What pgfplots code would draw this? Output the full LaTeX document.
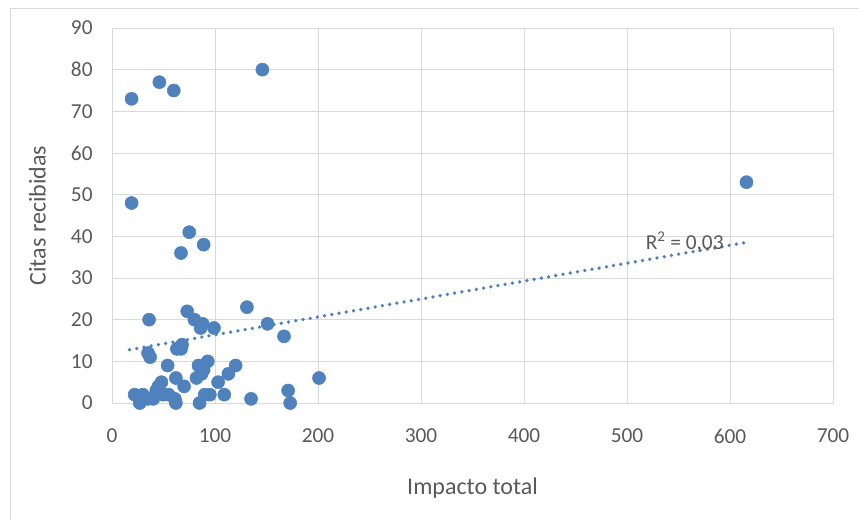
\documentclass[border=0pt]{standalone}
\usepackage{pgfplots}
\pgfplotsset{compat=1.18}
\usepackage{fontspec}
\setmainfont{Carlito}
\definecolor{ptblue}{HTML}{4F81BD}
\definecolor{gridc}{HTML}{D9D9D9}
\definecolor{txt}{HTML}{595959}
\begin{document}
\begin{tikzpicture}
\useasboundingbox (0,0) rectangle (644.25pt,389.25pt);
\draw[gridc, line width=0.75pt] (7.9pt,0) -- (7.9pt,383pt) -- (644.25pt,383pt);
\begin{axis}[
  at={(84pt,87pt)}, anchor=south west,
  scale only axis, width=540.75pt, height=281.25pt,
  xmin=0, xmax=700, ymin=0, ymax=90,
  xtick={0,100,...,700}, ytick={0,10,...,90},
  grid=major, major grid style={gridc, line width=0.75pt},
  axis line style={gridc, line width=0.75pt},
  tick style={draw=none},
  tick label style={font=\fontsize{16pt}{18pt}\selectfont, text=txt},
  /pgf/number format/assume math mode=true,
  xticklabel style={yshift=-16pt},
  yticklabel style={xshift=-11pt},
  xlabel={Impacto total}, ylabel={Citas recibidas},
  label style={font=\fontsize{18pt}{20pt}\selectfont, text=txt},
  xlabel style={at={(axis description cs:0.5,0)}, anchor=center, yshift=-64pt},
  ylabel style={at={(axis description cs:0,0.5)}, anchor=center, yshift=56pt},
  clip=false,
]
\addplot[only marks, mark=*, mark size=4.9pt, mark options={draw=ptblue, fill=ptblue}] coordinates {
(19,73) (46,77) (60,75) (146,80) (19,48) (75,41) (89,38) (67,36) (616,53)
(36,20) (73,22) (80,20) (88,19) (86,18) (99,18) (131,23) (151,19) (167,16)
(35,12) (37,11) (63,13) (68,14) (67,13)
(54,9) (84,9) (93,10) (89,8) (120,9) (113,7) (62,6) (48,5) (45,4) (43,3)
(82,6) (87,7) (70,4) (103,5) (201,6)
(22,2) (30,2) (27,0) (40,1) (55,2) (61,1) (62,0) (85,0) (90,2) (95,2) (109,2) (135,1) (171,3) (173,0)
(50,2) (35,1)
};
\addplot[ptblue, line width=2.8pt, dash pattern=on 0pt off 5.5pt, line cap=round] coordinates {(17,12.8) (615,38.5)};
\node[text=txt, font=\fontsize{16pt}{18pt}\selectfont] at (axis cs:556,38.6) {R\textsuperscript{2} = 0,03};
\end{axis}
\end{tikzpicture}
\end{document}
